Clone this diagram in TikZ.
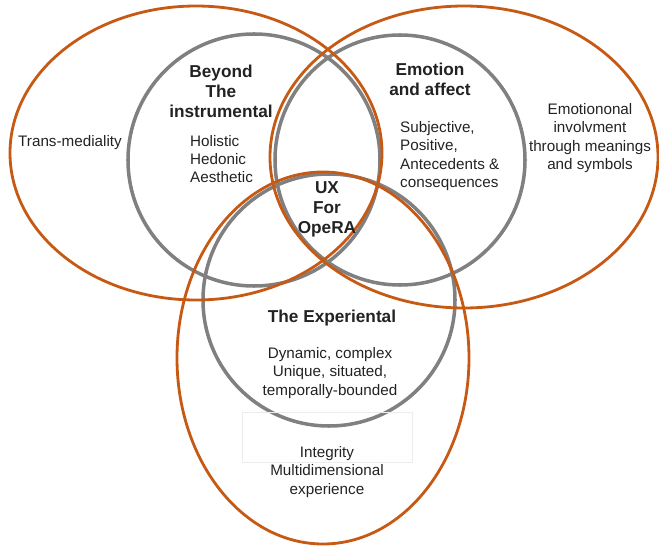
\documentclass[tikz,border=0pt]{standalone}
\usepackage{fontspec}
\setmainfont{Liberation Sans}
\definecolor{ringorange}{HTML}{C65A14}
\definecolor{ringgray}{HTML}{808080}
\definecolor{txtdark}{HTML}{222222}
\tikzset{
  orangering/.style={ringorange,line width=2.4pt},
  grayring/.style={ringgray,line width=3pt},
  head/.style={align=center,font=\fontsize{14.7}{17}\selectfont\bfseries,text=txtdark,inner sep=0pt},
  body/.style={align=center,font=\fontsize{13}{15.5}\selectfont,text=txtdark,inner sep=0pt},
}
\begin{document}
\begin{tikzpicture}[x=0.03cm,y=0.03cm]
\useasboundingbox (0,0) rectangle (659,548);
%gray circles
\draw[grayring] (254,388) circle (126);
\draw[grayring] (400,388) circle (125);
\draw[grayring] (329,248) circle (126);
%orange ellipses
\draw[orangering] (196,395) ellipse [x radius=186, y radius=147];
\draw[orangering] (464,391) ellipse [x radius=194, y radius=151];
\draw[orangering] (323,190) ellipse [x radius=146, y radius=186];
%faint box
\draw[gray!15,line width=0.4pt] (242,136) rectangle (412,86);
%texts
\node[head] (beyond) at (221,457) {Beyond\\The\\instrumental};
\node[body,align=left,anchor=west] (holistic) at (190,389) {Holistic\\Hedonic\\Aesthetic};
\node[body] (trans) at (70,405) {Trans-mediality};
\node[head] (emotion) at (430,469) {Emotion\\and affect};
\node[body,align=left,anchor=west] (subjective) at (400,392) {Subjective,\\Positive,\\Antecedents \&\\consequences};
\node[body] (involvment) at (590,410) {Emotiononal\\involvment\\through meanings\\and symbols};
\node[head] (ux) at (327,339) {UX\\For\\OpeRA};
\node[head] (experiental) at (332,230) {The Experiental};
\node[body] (dynamic) at (330,175) {Dynamic, complex\\Unique, situated,\\temporally-bounded};
\node[body] (integrity) at (327,76) {Integrity\\Multidimensional\\experience};
\end{tikzpicture}
\end{document}
